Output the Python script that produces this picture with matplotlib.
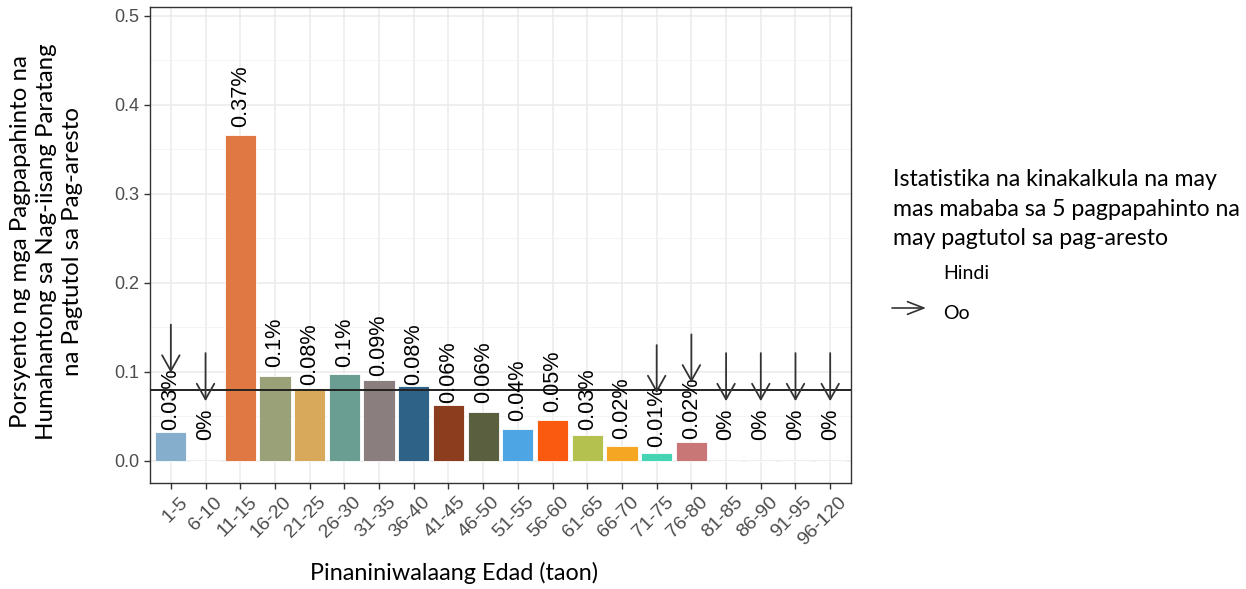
import numpy as np
import matplotlib
matplotlib.use("Agg")
import matplotlib.pyplot as plt
import matplotlib.transforms as mtransforms
from matplotlib.patches import FancyArrowPatch

# age groups and share of stops (%)
age_groups = ["1-5", "6-10", "11-15", "16-20", "21-25", "26-30", "31-35", "36-40",
              "41-45", "46-50", "51-55", "56-60", "61-65", "66-70", "71-75", "76-80",
              "81-85", "86-90", "91-95", "96-120"]
values = [0.032, 0.0, 0.366, 0.0955, 0.082, 0.0978, 0.091, 0.084,
          0.063, 0.055, 0.036, 0.046, 0.029, 0.017, 0.009, 0.021,
          0.0, 0.0, 0.0, 0.0]
labels = ["0.03%", "0%", "0.37%", "0.1%", "0.08%", "0.1%", "0.09%", "0.08%",
          "0.06%", "0.06%", "0.04%", "0.05%", "0.03%", "0.02%", "0.01%", "0.02%",
          "0%", "0%", "0%", "0%"]
# computed with fewer than 5 stops with resisting arrest
low_count = [True, True, False, False, False, False, False, False,
             False, False, False, False, False, False, True, True,
             True, True, True, True]
bar_colors = ["#85aecd", "#b0b0b0", "#e07843", "#9aa077", "#d9a95b", "#6a9e93",
              "#8b7e7e", "#2e6286", "#8c3d1e", "#5a5f3f", "#4ea5e3", "#fa5a10",
              "#b4c14e", "#f5a623", "#45d4b4", "#c97676", "#999999", "#999999",
              "#999999", "#999999"]
overall_rate = 0.08

fig = plt.figure(figsize=(12.46, 5.89), dpi=100)
ax = fig.add_axes([0.1204, 0.180, 0.5626, 0.808])

x = np.arange(len(age_groups))
ax.bar(x, values, width=0.9, color=bar_colors, edgecolor="white", linewidth=0.6, zorder=3)

for xi, v, lab in zip(x, values, labels):
    base = round(v, 2) + 0.005 if v > 0 else 0.023
    ax.text(xi, base, lab, rotation=90, ha="center", va="bottom",
            fontsize=15.6, family="Liberation Sans", color="black", zorder=5)

arrow_style = "->,head_width=0.45,head_length=0.8"
for xi, v, flag in zip(x, values, low_count):
    if flag:
        ax.annotate("", xy=(xi, v + 0.067), xytext=(xi, v + 0.121),
                    arrowprops=dict(arrowstyle=arrow_style, mutation_scale=14,
                                    color="#333333", lw=1.3, shrinkA=0, shrinkB=0),
                    zorder=6)

ax.axhline(overall_rate, color="#222222", lw=1.4, zorder=4)

ax.set_xlim(-0.6, len(age_groups) - 0.4)
ax.set_ylim(-0.025, 0.51)
ax.set_yticks([0.0, 0.1, 0.2, 0.3, 0.4, 0.5])
ax.set_yticks(np.arange(0.05, 0.5, 0.1), minor=True)
ax.set_yticklabels(["0.0", "0.1", "0.2", "0.3", "0.4", "0.5"])
ax.set_xticks(x)
ax.set_xticklabels(age_groups, rotation=45, ha="right", rotation_mode="anchor")

ax.grid(True, which="major", color="#ebebeb", lw=1.1, zorder=0)
ax.grid(True, which="minor", axis="y", color="#f2f2f2", lw=0.6, zorder=0)
ax.set_axisbelow(True)
for sp in ax.spines.values():
    sp.set_color("#333333")
    sp.set_linewidth(1.0)
ax.tick_params(axis="both", which="major", colors="#333333", length=4, width=1,
               labelsize=13, labelcolor="#4d4d4d")
ax.tick_params(axis="x", labelsize=14, pad=3)
ax.tick_params(which="minor", length=0)
shift = mtransforms.ScaledTranslation(0.08, -0.01, fig.dpi_scale_trans)
for t in ax.get_xticklabels():
    t.set_family("Liberation Sans")
    t.set_transform(t.get_transform() + shift)
for t in ax.get_yticklabels():
    t.set_family("Liberation Sans")

fig.text(454 / 1246, 1 - 580 / 589, "Pinaniniwalaang Edad (taon)", ha="center",
         va="baseline", fontsize=16.8, family="Lato")
fig.text(0.037, 0.59, "Porsyento ng mga Pagpapahinto na\nHumahantong sa Nag-iisang Paratang\nna Pagtutol sa Pag-aresto",
         rotation=90, ha="center", va="center", fontsize=17.3, family="Lato",
         multialignment="center", linespacing=1.3)

# legend
fig.text(893 / 1246, 1 - 245 / 589,
         "Istatistika na kinakalkula na may\nmas mababa sa 5 pagpapahinto na\nmay pagtutol sa pag-aresto",
         ha="left", va="baseline", fontsize=16.7, family="Lato", linespacing=1.5)
fig.text(943 / 1246, 1 - 279 / 589, "Hindi", ha="left", va="baseline", fontsize=14, family="Lato")
fig.text(943 / 1246, 1 - 319 / 589, "Oo", ha="left", va="baseline", fontsize=14, family="Lato")
fig.add_artist(FancyArrowPatch(
    (892 / 1246, 1 - 308 / 589), (926 / 1246, 1 - 308 / 589),
    transform=fig.transFigure, arrowstyle="->,head_width=0.35,head_length=0.9",
    mutation_scale=13, color="#333333", lw=1.2, shrinkA=0, shrinkB=0))

fig.savefig("out.png", dpi=100, facecolor="white")
